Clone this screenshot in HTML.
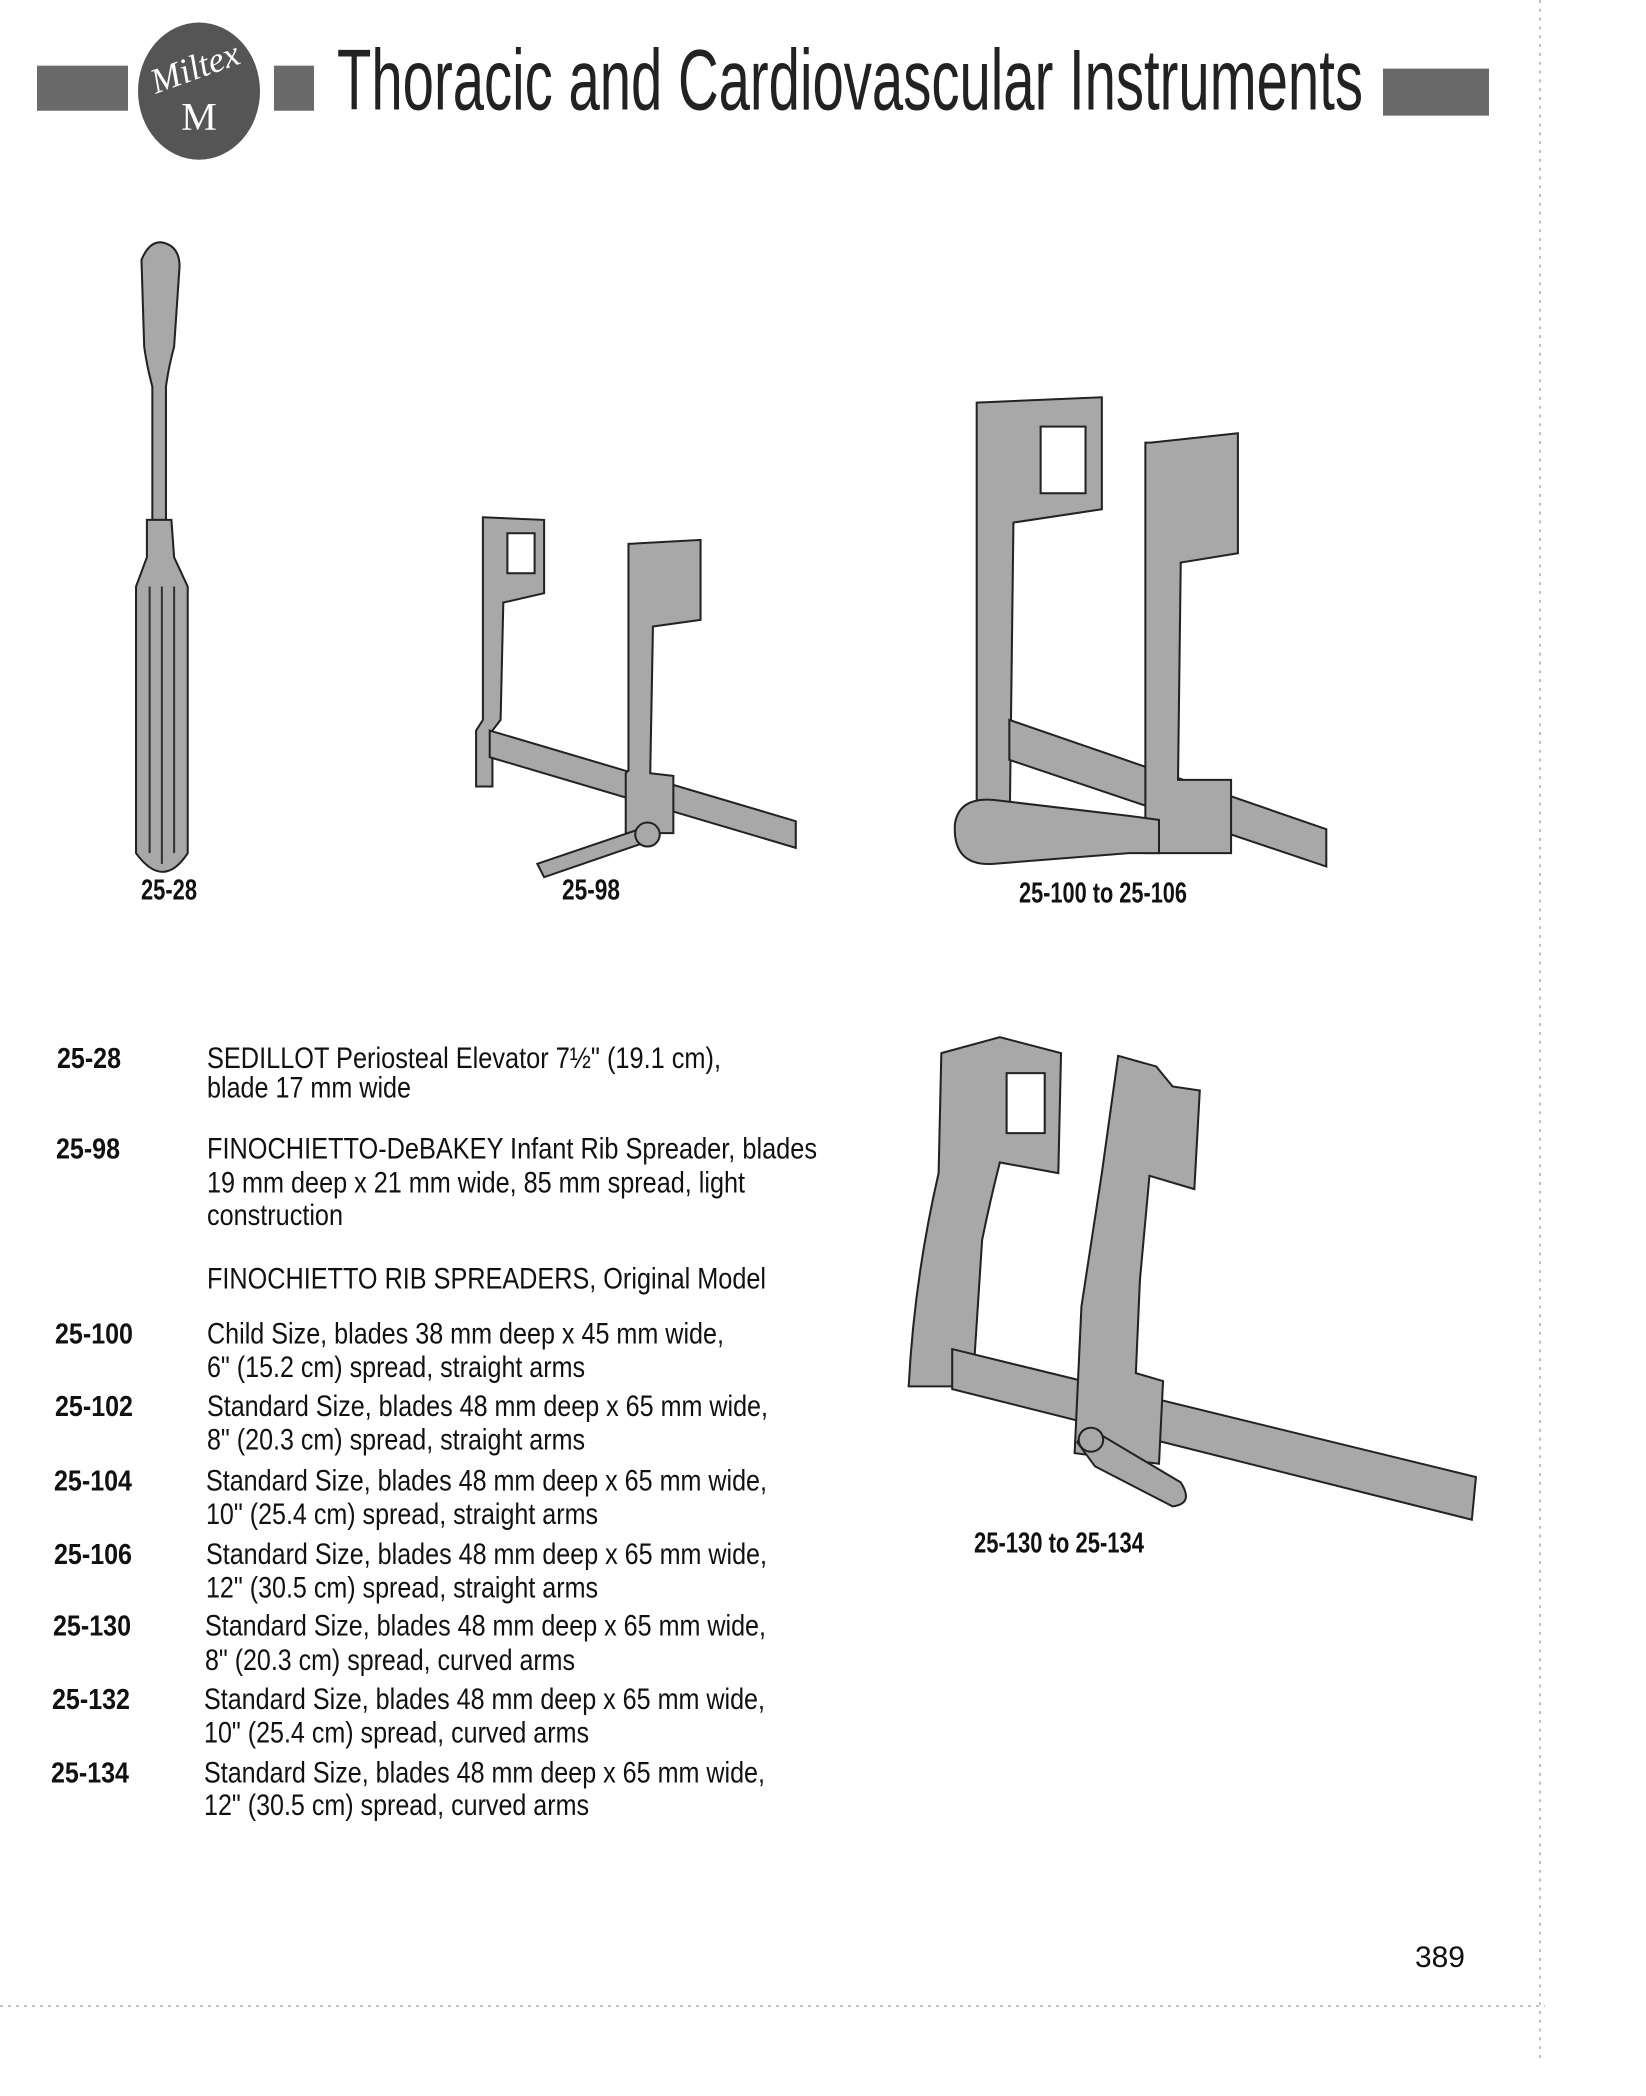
<!DOCTYPE html>
<html><head><meta charset="utf-8"><style>
html,body{margin:0;padding:0;background:#fff}
svg{display:block}
.t{font-family:"Liberation Sans",sans-serif;font-size:30px;fill:#111}
.c{font-family:"Liberation Sans",sans-serif;font-size:29px;font-weight:bold;fill:#111}
</style></head><body>
<svg width="1646" height="2096" viewBox="0 0 1646 2096" xmlns="http://www.w3.org/2000/svg">
<g transform="scale(1,0.98)">
<!-- header -->
<rect x="37" y="67" width="91" height="46" fill="#6a6a6a"/>
<ellipse cx="199" cy="93" rx="61" ry="70" fill="#555"/>
<text x="199" y="80" text-anchor="middle" font-family="Liberation Serif,serif" font-style="italic" font-size="36" fill="#fff" transform="rotate(-20 199 80)">Miltex</text>
<text x="199" y="132" text-anchor="middle" font-family="Liberation Serif,serif" font-size="40" fill="#fff">M</text>
<rect x="274" y="67" width="40" height="46" fill="#6a6a6a"/>
<text x="337" y="112" font-family="Liberation Sans,sans-serif" font-size="88" fill="#222" textLength="1026" lengthAdjust="spacingAndGlyphs">Thoracic and Cardiovascular Instruments</text>
<rect x="1383" y="70" width="106" height="48" fill="#6a6a6a"/>
<line x1="1540" y1="0" x2="1540" y2="2100" stroke="#aaa" stroke-width="1.5" stroke-dasharray="3 6"/>
<line x1="0" y1="2047" x2="1545" y2="2047" stroke="#aaa" stroke-width="1.5" stroke-dasharray="3 5"/>

<!-- drawings in display coords -->
<g transform="scale(1.3603)" stroke="#222" stroke-width="1.5" fill="#a8a8a8">
 <path d="M104 195 Q110 180 120 182 Q132 185 132 200 L128 260 Q124 275 122 290 L122 390 L112 390 L112 290 Q108 275 106 260 Z"/>
 <path d="M108 390 L126 390 L128 418 L138 440 L138 640 Q120 668 100 640 L100 440 L108 418 Z"/>
 <g fill="none" stroke="#333"><line x1="110" y1="440" x2="110" y2="640"/><line x1="119" y1="440" x2="119" y2="648"/><line x1="128" y1="440" x2="128" y2="640"/></g>
 <!-- 25-98 -->
 <path d="M355 388 L400 390 L400 445 L370 452 L368 540 L362 548 L362 590 L350 590 L350 548 L355 540 Z"/>
 <rect x="373" y="400" width="20" height="30" fill="#fff"/>
 <path d="M360 548 L585 616 L585 636 L360 568 Z"/>
 <path d="M462 408 L515 405 L515 465 L480 470 L478 580 L495 582 L495 625 L460 625 L460 580 L462 578 Z"/>
 <path d="M395 648 L470 622 L474 632 L400 658 Z"/>
 <circle cx="476" cy="626" r="9"/>
 <!-- 25-100 -->
 <path d="M718 302 L810 298 L810 382 L745 392 L742 640 L718 640 Z"/>
 <rect x="765" y="320" width="33" height="50" fill="#fff"/>
 <path d="M742 540 L975 622 L975 650 L742 570 Z"/>
 <path d="M846 332 L910 325 L910 415 L868 422 L866 585 L905 585 L905 640 L842 640 L842 332 Z"/>
 <path d="M702 618 Q705 598 730 600 L830 612 L852 615 L852 640 L830 640 L730 648 Q700 650 702 618 Z"/>
 <!-- 25-130 -->
 <path d="M692 790 L735 778 L780 790 L778 880 L735 872 Q728 900 722 930 L715 1040 L668 1040 Q672 960 690 880 Z"/>
 <rect x="740" y="805" width="28" height="45" fill="#fff"/>
 <path d="M700 1012 L1085 1108 L1082 1140 L700 1042 Z"/>
 <path d="M822 792 L850 800 L862 815 L882 818 L878 892 L845 882 L838 960 L835 1030 L855 1036 L852 1098 L790 1090 L795 980 L810 880 Z"/>
 <path d="M792 1082 Q798 1068 812 1078 L868 1112 Q878 1128 862 1130 L805 1100 Z"/>
 <circle cx="802" cy="1080" r="9"/>
</g>

<!-- captions -->
<text class="c" x="141" y="918" textLength="56" lengthAdjust="spacingAndGlyphs">25-28</text>
<text class="c" x="562" y="918" textLength="58" lengthAdjust="spacingAndGlyphs">25-98</text>
<text class="c" x="1019" y="921" textLength="168" lengthAdjust="spacingAndGlyphs">25-100 to 25-106</text>
<text class="c" x="974" y="1584" textLength="170" lengthAdjust="spacingAndGlyphs">25-130 to 25-134</text>

<!-- codes -->
<text class="c" x="57" y="1090" textLength="64" lengthAdjust="spacingAndGlyphs">25-28</text>
<text class="c" x="56" y="1182" textLength="64" lengthAdjust="spacingAndGlyphs">25-98</text>
<text class="c" x="55" y="1371" textLength="78" lengthAdjust="spacingAndGlyphs">25-100</text>
<text class="c" x="55" y="1445" textLength="78" lengthAdjust="spacingAndGlyphs">25-102</text>
<text class="c" x="54" y="1521" textLength="78" lengthAdjust="spacingAndGlyphs">25-104</text>
<text class="c" x="54" y="1596" textLength="78" lengthAdjust="spacingAndGlyphs">25-106</text>
<text class="c" x="53" y="1669" textLength="78" lengthAdjust="spacingAndGlyphs">25-130</text>
<text class="c" x="52" y="1744" textLength="78" lengthAdjust="spacingAndGlyphs">25-132</text>
<text class="c" x="51" y="1819" textLength="78" lengthAdjust="spacingAndGlyphs">25-134</text>

<!-- descriptions -->
<text class="t" x="207" y="1090" textLength="514" lengthAdjust="spacingAndGlyphs">SEDILLOT Periosteal Elevator 7½" (19.1 cm),</text>
<text class="t" x="207" y="1120" textLength="204" lengthAdjust="spacingAndGlyphs">blade 17 mm wide</text>
<text class="t" x="207" y="1182" textLength="610" lengthAdjust="spacingAndGlyphs">FINOCHIETTO-DeBAKEY Infant Rib Spreader, blades</text>
<text class="t" x="207" y="1217" textLength="538" lengthAdjust="spacingAndGlyphs">19 mm deep x 21 mm wide, 85 mm spread, light</text>
<text class="t" x="207" y="1250" textLength="136" lengthAdjust="spacingAndGlyphs">construction</text>
<text class="t" x="207" y="1315" textLength="559" lengthAdjust="spacingAndGlyphs">FINOCHIETTO RIB SPREADERS, Original Model</text>
<text class="t" x="207" y="1371" textLength="517" lengthAdjust="spacingAndGlyphs">Child Size, blades 38 mm deep x 45 mm wide,</text>
<text class="t" x="207" y="1405" textLength="378" lengthAdjust="spacingAndGlyphs">6" (15.2 cm) spread, straight arms</text>
<text class="t" x="207" y="1445" textLength="561" lengthAdjust="spacingAndGlyphs">Standard Size, blades 48 mm deep x 65 mm wide,</text>
<text class="t" x="207" y="1479" textLength="378" lengthAdjust="spacingAndGlyphs">8" (20.3 cm) spread, straight arms</text>
<text class="t" x="206" y="1521" textLength="561" lengthAdjust="spacingAndGlyphs">Standard Size, blades 48 mm deep x 65 mm wide,</text>
<text class="t" x="206" y="1555" textLength="392" lengthAdjust="spacingAndGlyphs">10" (25.4 cm) spread, straight arms</text>
<text class="t" x="206" y="1596" textLength="561" lengthAdjust="spacingAndGlyphs">Standard Size, blades 48 mm deep x 65 mm wide,</text>
<text class="t" x="206" y="1630" textLength="392" lengthAdjust="spacingAndGlyphs">12" (30.5 cm) spread, straight arms</text>
<text class="t" x="205" y="1669" textLength="561" lengthAdjust="spacingAndGlyphs">Standard Size, blades 48 mm deep x 65 mm wide,</text>
<text class="t" x="205" y="1704" textLength="370" lengthAdjust="spacingAndGlyphs">8" (20.3 cm) spread, curved arms</text>
<text class="t" x="204" y="1744" textLength="561" lengthAdjust="spacingAndGlyphs">Standard Size, blades 48 mm deep x 65 mm wide,</text>
<text class="t" x="204" y="1778" textLength="385" lengthAdjust="spacingAndGlyphs">10" (25.4 cm) spread, curved arms</text>
<text class="t" x="204" y="1819" textLength="561" lengthAdjust="spacingAndGlyphs">Standard Size, blades 48 mm deep x 65 mm wide,</text>
<text class="t" x="204" y="1852" textLength="385" lengthAdjust="spacingAndGlyphs">12" (30.5 cm) spread, curved arms</text>

<text class="t" x="1415" y="2007" textLength="50" lengthAdjust="spacingAndGlyphs">389</text>
</g>
</svg>
</body></html>
